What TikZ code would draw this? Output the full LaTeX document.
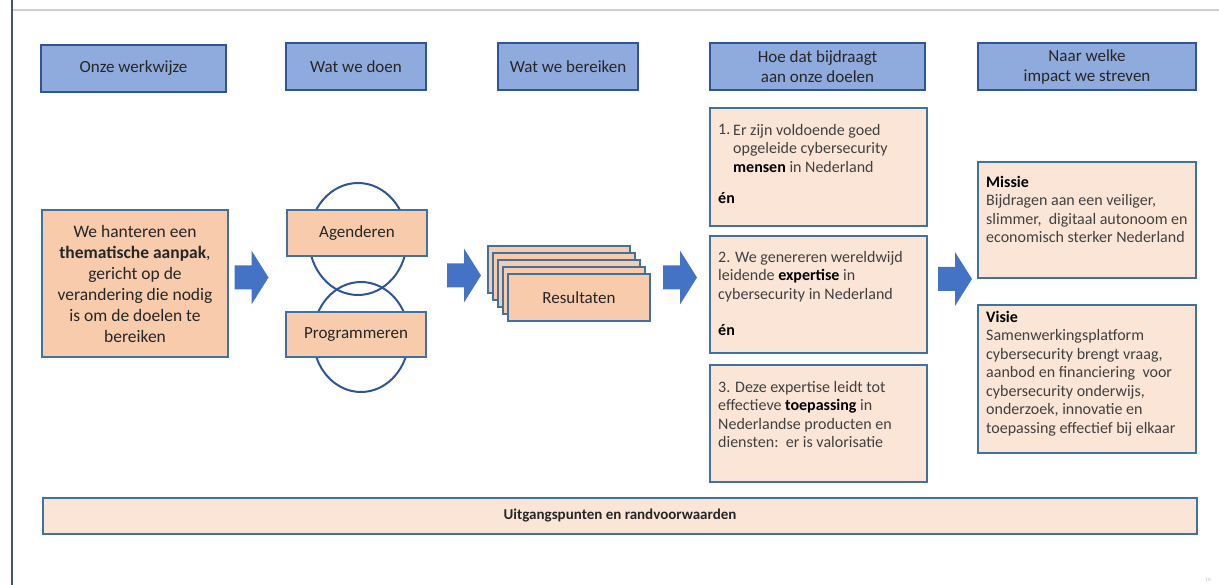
\documentclass[tikz,border=0pt]{standalone}
\usepackage{fontspec}
\setmainfont{Carlito}
\definecolor{hdrfill}{HTML}{8FAADC}
\definecolor{hdrborder}{HTML}{2F5597}
\definecolor{boxborder}{HTML}{41719C}
\definecolor{peachdark}{HTML}{F8CBAD}
\definecolor{peachlight}{HTML}{FBE5D6}
\definecolor{ringblue}{HTML}{2F5597}
\definecolor{arrowblue}{HTML}{4472C4}
\definecolor{txt}{HTML}{262626}
\definecolor{txtgray}{HTML}{404040}
\definecolor{leftline}{HTML}{44546A}
\definecolor{topline}{HTML}{D0CECE}
\begin{document}
\begin{tikzpicture}[x=1pt,y=-1pt,
  hdr/.style={draw=hdrborder, fill=hdrfill, line width=1.1pt, inner sep=0pt, align=center,
    font=\fontsize{17}{20}\selectfont, text=txt},
  peach/.style={draw=boxborder, fill=peachdark, line width=1.1pt, inner sep=0pt, align=center, text=txt},
  light/.style={draw=boxborder, fill=peachlight, line width=1.1pt, inner sep=0pt},
  body/.style={anchor=north west, inner sep=0pt, align=left,
    font=\fontsize{16}{18.5}\selectfont, text=txtgray},
  ring/.style={draw=ringblue, line width=2pt},
  pics/blockarrow/.style={code={
    \fill[arrowblue] (-17,-12) -- (0,-12) -- (0,-27) -- (17,0) -- (0,27) -- (0,12) -- (-17,12) -- cycle;}}
]
\useasboundingbox (0,0) rectangle (1219,585);
% frame lines
\draw[leftline, line width=2pt] (12,0) -- (12,585);
\draw[topline, line width=1.5pt] (13,10) -- (1219,10);

% headers
\node[hdr, minimum width=185, minimum height=47] (h1) at (133.5,68.5) {Onze werkwijze};
\node[hdr, minimum width=140, minimum height=47] (h2) at (356,66.5) {Wat we doen};
\node[hdr, minimum width=140, minimum height=47] (h3) at (568,66.5) {Wat we bereiken};
\node[hdr, minimum width=215, minimum height=47] (h4) at (817.5,66.5) {Hoe dat bijdraagt\\aan onze doelen};
\node[hdr, minimum width=218, minimum height=47] (h5) at (1087,66.5) {Naar welke\\impact we streven};

% left box
\node[peach, minimum width=186, minimum height=147, font=\fontsize{17.5}{21}\selectfont] (werk) at (135,283.5)
  {We hanteren een\\\textbf{thematische aanpak},\\gericht op de\\verandering die nodig\\is om de doelen te\\bereiken};

% rings
\draw[ring] (358,239) ellipse [x radius=49, y radius=56];
\draw[ring] (361,337) ellipse [x radius=48, y radius=55];
\node[peach, minimum width=140, minimum height=46, font=\fontsize{17}{20}\selectfont] (agenda) at (357,233) {Agenderen};
\node[peach, minimum width=140, minimum height=45, font=\fontsize{17}{20}\selectfont] (prog) at (356,334.5) {Programmeren};

% stacked results
\foreach \k in {4,3,2,1} {
  \node[peach, minimum width=142, minimum height=47] (res\k) at ({579-5*\k},{297.5-7*\k}) {};
}
\node[peach, minimum width=142, minimum height=47, font=\fontsize{17}{20}\selectfont] (res) at (579,297.5) {Resultaten};

% goal boxes
\node[light, minimum width=217, minimum height=118] (b1) at (818.5,167) {};
\node[light, minimum width=217, minimum height=117] (b2) at (818.5,294.5) {};
\node[light, minimum width=217, minimum height=117] (b3) at (818.5,423.5) {};
\node[body] (b1n) at (718,124) {1.};
\node[body] (b1t) at (733,124) {Er zijn voldoende goed\\opgeleide cybersecurity\\\textcolor{black}{\textbf{mensen}} in Nederland};
\node[body, text=black] (b1e) at (718,192) {\textbf{én}};
\node[body] (b2t) at (718,251) {2. We genereren wereldwijd\\leidende \textcolor{black}{\textbf{expertise}} in\\cybersecurity in Nederland};
\node[body, text=black] (b2e) at (718,324) {\textbf{én}};
\node[body] (b3t) at (718,381) {3. Deze expertise leidt tot\\effectieve \textcolor{black}{\textbf{toepassing}} in\\Nederlandse producten en\\diensten:\ \ er is valorisatie};

% impact boxes
\node[light, minimum width=218, minimum height=116] (missie) at (1087,220) {};
\node[light, minimum width=218, minimum height=148] (visie) at (1087,379) {};
\node[body] (mt) at (986,176) {\textcolor{black}{\textbf{Missie}}\\Bijdragen aan een veiliger,\\slimmer,\ \ digitaal autonoom en\\economisch sterker Nederland};
\node[body] (vt) at (986,311) {\textcolor{black}{\textbf{Visie}}\\Samenwerkingsplatform\\cybersecurity brengt vraag,\\aanbod en financiering\ \ voor\\cybersecurity onderwijs,\\onderzoek, innovatie en\\toepassing effectief bij elkaar};

% bottom bar
\node[light, minimum width=1154, minimum height=36, text=txt, font=\fontsize{15}{17}\selectfont\bfseries] (bar) at (620,516) {Uitgangspunten en randvoorwaarden};

% block arrows
\pic at (251.5,277.5) {blockarrow};
\pic at (464,275.5) {blockarrow};
\pic at (680,277.5) {blockarrow};
\pic at (955,279) {blockarrow};

% page number
\node[text=gray!60, font=\fontsize{5}{6}\selectfont, inner sep=0pt] (pg) at (1208,580) {10};
\end{tikzpicture}
\end{document}
